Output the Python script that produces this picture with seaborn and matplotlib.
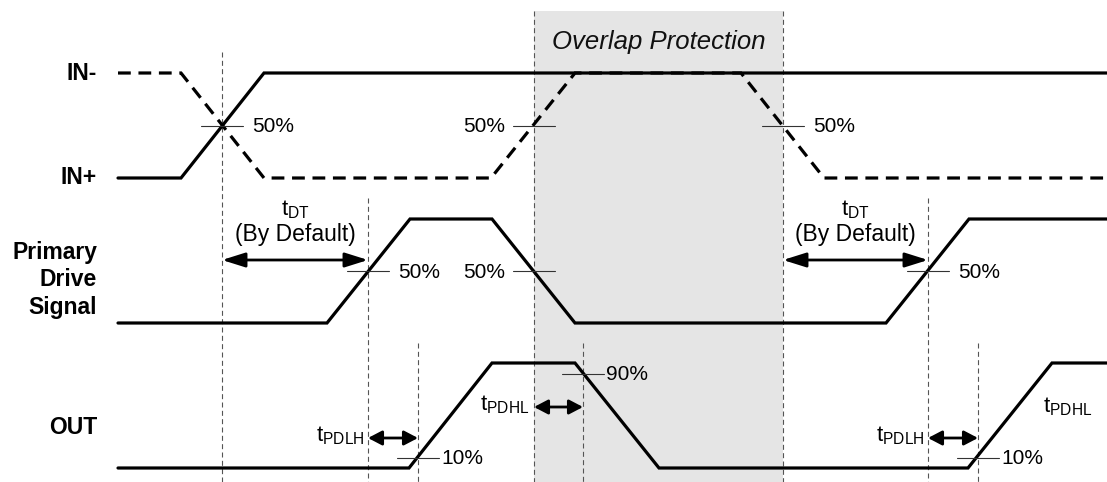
import matplotlib
matplotlib.use('Agg')
import matplotlib.pyplot as plt
import seaborn as sns
import numpy as np

# waveform breakpoints (time) and logic levels (0 = low, 1 = high)
in_plus_t = [118, 181, 264, 1107]
in_plus_v = [0, 0, 1, 1]
in_minus_t = [118, 181, 264, 491, 575, 741, 824, 1107]
in_minus_v = [1, 1, 0, 0, 1, 1, 0, 0]
drive_t = [118, 327, 410, 492, 575, 886, 969, 1107]
drive_v = [0, 0, 1, 1, 0, 0, 1, 1]
out_t = [118, 409, 492, 575, 659, 968, 1052, 1107]
out_v = [0, 0, 1, 1, 0, 0, 1, 1]

# threshold crossings: time, row, level fraction, label, label side
cross_t = [222, 534, 783, 368, 534, 928, 418, 583, 978]
cross_row = ['in', 'in', 'in', 'drive', 'drive', 'drive', 'out', 'out', 'out']
cross_lvl = [0.5, 0.5, 0.5, 0.5, 0.5, 0.5, 0.1, 0.9, 0.1]
cross_lbl = ['50%', '50%', '50%', '50%', '50%', '50%', '10%', '90%', '10%']
cross_side = ['r', 'l', 'r', 'r', 'l', 'r', 'r', 'r', 'r']

# timing intervals
dt_start = [222, 783]
dt_end = [368, 928]
pdlh_start = [368, 928]
pdlh_end = [418, 978]
pdhl_start = [534]
pdhl_end = [583]
overlap = [534, 783]

row_names = ['IN-', 'IN+', 'Primary\nDrive\nSignal', 'OUT']

# layout (pixel rows)
W, H = 1107, 482
rows = {'in': (178, 73), 'drive': (323, 219), 'out': (468, 363)}


def level_y(row, v):
    lo, hi = rows[row]
    return lo + np.asarray(v, dtype=float) * (hi - lo)


sns.set_theme(style='white')
plt.rcParams['font.family'] = ['Liberation Sans', 'DejaVu Sans']
plt.rcParams['text.color'] = 'black'
plt.rcParams['mathtext.fontset'] = 'custom'
plt.rcParams['mathtext.rm'] = 'Liberation Sans'
plt.rcParams['mathtext.it'] = 'Liberation Sans:italic'

fig = plt.figure(figsize=(W / 100, H / 100), dpi=100)
ax = fig.add_axes([0, 0, 1, 1])
ax.set_xlim(0, W)
ax.set_ylim(H, 0)
ax.axis('off')

# overlap protection band
ax.axvspan(overlap[0], overlap[1], ymin=0, ymax=1 - 11 / H, color='#e5e5e5', lw=0, zorder=0)
ax.text(np.mean(overlap), 42, 'Overlap Protection', ha='center', va='center',
        fontsize=18.5, style='italic', color='#111111')

# reference dashed lines
vl_top = {'in': 52, 'drive': 198, 'out': 343}
for t in overlap:
    ax.plot([t, t], [11, H], color='#555555', lw=0.8, ls=(0, (4.5, 3)), zorder=1)
for t, r in zip(cross_t, cross_row):
    if t in overlap:
        continue
    ax.plot([t, t], [vl_top[r], H], color='#555555', lw=0.8, ls=(0, (4.5, 3)), zorder=1)

# waveforms
wave_kw = dict(color='black', lw=2.3, sort=False, estimator=None, ax=ax,
               solid_joinstyle='miter', zorder=3)
sns.lineplot(x=in_minus_t, y=level_y('in', in_minus_v), linestyle=(0, (4, 2.4)),
             dash_capstyle='butt', dash_joinstyle='miter', **wave_kw)
sns.lineplot(x=in_plus_t, y=level_y('in', in_plus_v), **wave_kw)
sns.lineplot(x=drive_t, y=level_y('drive', drive_v), **wave_kw)
sns.lineplot(x=out_t, y=level_y('out', out_v), **wave_kw)

# threshold ticks and labels
for t, r, lv, lb, sd in zip(cross_t, cross_row, cross_lvl, cross_lbl, cross_side):
    y = float(level_y(r, lv))
    ax.plot([t - 21, t + 21], [y, y], color='#333333', lw=0.8, zorder=4)
    gap = 2 if r == 'out' else 9
    if sd == 'r':
        ax.text(t + 21 + gap, y + 1, lb, ha='left', va='center', fontsize=15)
    else:
        ax.text(t - 21 - 8, y + 1, lb, ha='right', va='center', fontsize=15)


def dbl_arrow(x0, x1, y, hl=0.7):
    ax.annotate('', xy=(x1, y), xytext=(x0, y),
                arrowprops=dict(arrowstyle=f'<|-|>,head_length={hl},head_width=0.22',
                                mutation_scale=20, lw=2, color='black',
                                shrinkA=0, shrinkB=0), zorder=5)


for a, b in zip(dt_start, dt_end):
    dbl_arrow(a, b, 260)
    ax.text((a + b) / 2, 210, r't$_\mathrm{DT}$', ha='center', va='center', fontsize=16)
    ax.text((a + b) / 2, 234, '(By Default)', ha='center', va='center', fontsize=16.5)
for a, b in zip(pdlh_start, pdlh_end):
    dbl_arrow(a, b, 438, hl=0.42)
    ax.text(a - 3, 436, r't$_\mathrm{PDLH}$', ha='right', va='center', fontsize=16)
for a, b in zip(pdhl_start, pdhl_end):
    dbl_arrow(a, b, 407, hl=0.42)
    ax.text(a - 5, 405, r't$_\mathrm{PDHL}$', ha='right', va='center', fontsize=16)
ax.text(1043, 407, r't$_\mathrm{PDHL}$', ha='left', va='center', fontsize=16)

# row labels
label_y = [73, 178, 280, 427]
for name, y in zip(row_names, label_y):
    ax.text(97, y, name, ha='right', va='center', fontsize=16.5, fontweight='bold',
            linespacing=1.25)

fig.savefig('out.png', dpi=100, facecolor='white')
